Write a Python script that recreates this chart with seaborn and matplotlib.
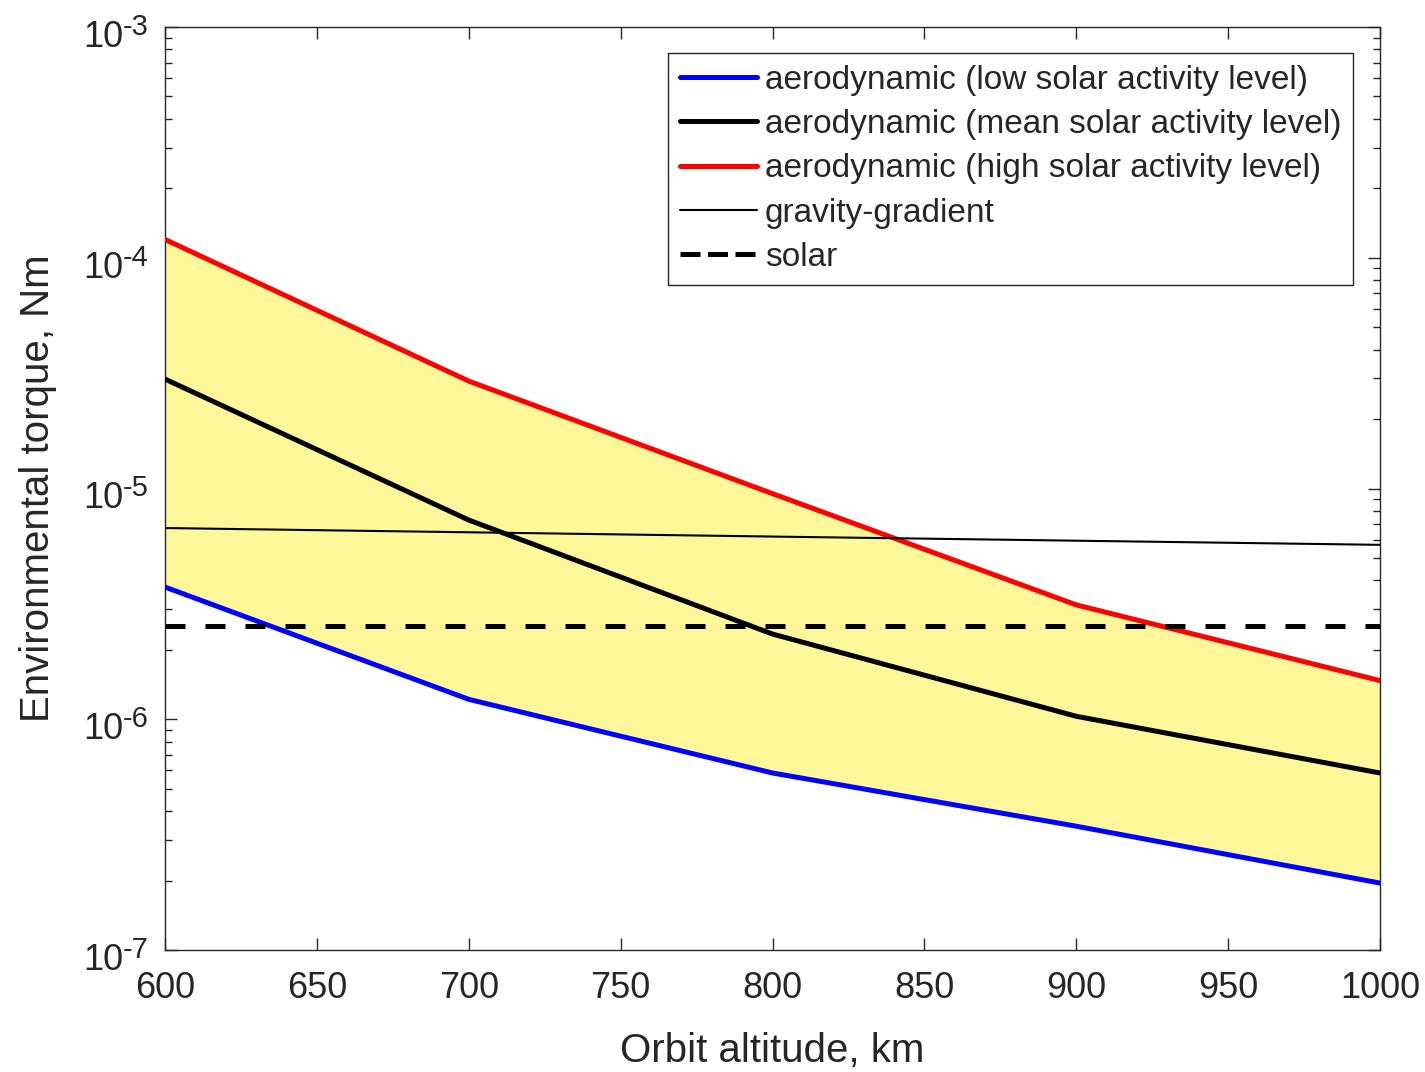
import numpy as np
import pandas as pd
import matplotlib
matplotlib.use("Agg")
import matplotlib.pyplot as plt
import seaborn as sns

# orbit altitude, km
altitude = [600, 700, 800, 900, 1000]

# torques, Nm
aero_low = [3.74e-6, 1.22e-6, 5.85e-7, 3.44e-7, 1.95e-7]
aero_mean = [2.98e-5, 7.3e-6, 2.34e-6, 1.03e-6, 5.85e-7]
aero_high = [1.2e-4, 2.92e-5, 9.5e-6, 3.13e-6, 1.47e-6]
gravity_gradient = [6.74e-6, 6.46e-6, 6.19e-6, 5.94e-6, 5.70e-6]
solar = [2.54e-6, 2.54e-6, 2.54e-6, 2.54e-6, 2.54e-6]

# y decades shown as 10^n
decades = [-7, -6, -5, -4, -3]

labels = ["aerodynamic (low solar activity level)",
          "aerodynamic (mean solar activity level)",
          "aerodynamic (high solar activity level)",
          "gravity-gradient",
          "solar"]

sns.set_style("ticks")
plt.rcParams['font.family'] = ['Liberation Sans', 'DejaVu Sans']
plt.rcParams['axes.unicode_minus'] = False

grey = '#262626'
fig = plt.figure(figsize=(14.25, 10.72), dpi=100)
ax = fig.add_axes([165/1425, 1-950/1072, (1380-165)/1425, (950-27)/1072])

df = pd.DataFrame({"alt": altitude, "low": aero_low, "mean": aero_mean,
                   "high": aero_high, "gg": gravity_gradient, "solar": solar})

# band between low and high activity
ax.fill_between(df["alt"], df["low"], df["high"], color='#FFF89A', lw=0, zorder=1)

sns.lineplot(data=df, x="alt", y="low", color='#0000FF', lw=3.6, ax=ax, label=labels[0], zorder=3)
sns.lineplot(data=df, x="alt", y="mean", color='black', lw=3.6, ax=ax, label=labels[1], zorder=3)
sns.lineplot(data=df, x="alt", y="high", color='#FF0000', lw=3.6, ax=ax, label=labels[2], zorder=3)
sns.lineplot(data=df, x="alt", y="gg", color='black', lw=1.5, ax=ax, label=labels[3], zorder=3)
sns.lineplot(data=df, x="alt", y="solar", color='black', lw=3.6, ax=ax, label=labels[4], zorder=3)
ax.lines[-1].set_dashes((4, 4))

ax.set_yscale('log')
ax.set_xlim(600, 1000)
ax.set_ylim(1e-7, 1e-3)
ax.set_xticks(np.arange(600, 1001, 50))
ax.set_yticks([10.0**d for d in decades])
ax.set_yticklabels([])

# matlab style 10^n labels with big superscripts
for d in decades:
    ax.annotate("10", xy=(0, 10.0**d), xycoords=('axes fraction', 'data'),
                xytext=(-42, -20), textcoords='offset pixels', ha='right',
                va='baseline', fontsize=26, color=grey, annotation_clip=False)
    ax.annotate(str(d), xy=(0, 10.0**d), xycoords=('axes fraction', 'data'),
                xytext=(-42, -8), textcoords='offset pixels', ha='left',
                va='baseline', fontsize=21, color=grey, annotation_clip=False)

for sp in ax.spines.values():
    sp.set_visible(True)
    sp.set_color(grey)
    sp.set_linewidth(1.0)

ax.tick_params(which='both', direction='in', top=True, right=True, color=grey,
               labelcolor=grey, labelsize=26, width=1.0)
ax.tick_params(which='major', length=8.5)
ax.tick_params(which='minor', length=5)
ax.tick_params(axis='x', which='major', pad=15)
ax.tick_params(axis='x', which='minor', top=False, bottom=False)

ax.set_xlabel("Orbit altitude, km", fontsize=29, color=grey, labelpad=19)
ax.set_ylabel("Environmental torque, Nm", fontsize=29, color=grey)
ax.yaxis.set_label_coords((57-165)/1215, 0.5)

leg = ax.legend(loc='upper right', bbox_to_anchor=((1353-165)/1215, (950-53)/923),
                borderaxespad=0, fontsize=24, frameon=True, fancybox=False,
                framealpha=1, edgecolor=grey, handlelength=2.3, handletextpad=0.25,
                labelspacing=0.4, borderpad=0.35)
leg.get_frame().set_linewidth(1.0)
leg.get_lines()[-1].set_linestyle((0, (4, 1.5)))

fig.savefig("out.png", dpi=100)
